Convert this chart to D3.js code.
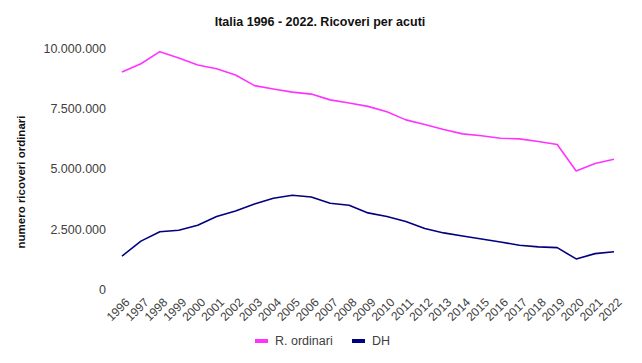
<!DOCTYPE html>
<html>
<head>
<meta charset="utf-8">
<script src="https://cdn.jsdelivr.net/npm/d3@7"></script>
<style>
  body { margin: 0; background: #fff; }
  svg { font-family: "Liberation Sans", Arial, sans-serif; }
</style>
</head>
<body>
<div id="chart"></div>
<script>
const years = d3.range(1996, 2023);
const ordinari = [9.02, 9.36, 9.86, 9.60, 9.31, 9.15, 8.89, 8.45, 8.31, 8.18, 8.10, 7.86, 7.73, 7.59, 7.37, 7.03, 6.84, 6.63, 6.45, 6.37, 6.27, 6.24, 6.13, 6.01, 4.91, 5.22, 5.40].map((v) => v * 1e6);
const dh = [1.38, 2.0, 2.39, 2.45, 2.66, 3.02, 3.25, 3.54, 3.78, 3.90, 3.83, 3.57, 3.49, 3.17, 3.02, 2.81, 2.52, 2.34, 2.21, 2.09, 1.96, 1.83, 1.76, 1.73, 1.26, 1.48, 1.56].map((v) => v * 1e6);
const yTicks = [0, 2500000, 5000000, 7500000, 10000000];

const series = [
  { name: "R. ordinari", values: ordinari, color: "#ff33ff" },
  { name: "DH", values: dh, color: "#000080" },
];

const width = 642, height = 363;
const itFormat = d3.formatLocale({ decimal: ",", thousands: ".", grouping: [3], currency: ["€", ""] }).format(",d");

const svg = d3.select("#chart").append("svg")
  .attr("width", width).attr("height", height);

const x = d3.scaleLinear().domain([1996, 2022]).range([122, 614]);
const y = d3.scaleLinear().domain([0, 10000000]).range([289.3, 48.3]);

svg.append("text")
  .attr("x", 320).attr("y", 26)
  .attr("text-anchor", "middle")
  .style("font-size", "12.5px").style("font-weight", "bold").attr("fill", "#111")
  .text("Italia 1996 - 2022. Ricoveri per acuti");

// y axis labels
const yAxis = svg.append("g").attr("transform", "translate(106,0)")
  .call(d3.axisLeft(y).tickValues(yTicks).tickFormat(itFormat).tickSize(0).tickPadding(0));
yAxis.select(".domain").remove();
yAxis.selectAll("text").style("font-size", "12.5px").attr("fill", "#404040")
  .style("font-family", "Liberation Sans, Arial, sans-serif");

svg.append("text")
  .attr("transform", "translate(25,182) rotate(-90)")
  .attr("text-anchor", "middle")
  .style("font-size", "11.5px").style("font-weight", "bold").attr("fill", "#111")
  .text("numero ricoveri ordinari");

// x axis labels
const xAxis = svg.append("g").attr("transform", "translate(0,296)")
  .call(d3.axisBottom(x).tickValues(years).tickFormat(d3.format("d")).tickSize(0).tickPadding(0));
xAxis.select(".domain").remove();
xAxis.selectAll("text")
  .style("font-size", "12px").attr("fill", "#404040")
  .style("font-family", "Liberation Sans, Arial, sans-serif")
  .attr("text-anchor", "end")
  .attr("dy", "0.35em")
  .attr("transform", "translate(5,4) rotate(-45)");

const line = d3.line()
  .x((d, i) => x(years[i]))
  .y((d) => y(d));

svg.append("g").selectAll("path")
  .data(series)
  .enter()
  .append("path")
  .attr("d", (d) => line(d.values))
  .attr("fill", "none")
  .attr("stroke", (d) => d.color)
  .attr("stroke-width", 1.6)
  .attr("stroke-linejoin", "round");

// legend
const legendX = [255, 352];
const legend = svg.append("g").selectAll("g")
  .data(series)
  .enter()
  .append("g")
  .attr("transform", (d, i) => `translate(${legendX[i]},341)`);
legend.append("rect")
  .attr("x", 0).attr("y", -2).attr("width", 13).attr("height", 4)
  .attr("fill", (d) => d.color);
legend.append("text")
  .attr("x", 20).attr("y", 0).attr("dy", "0.35em")
  .style("font-size", "12.5px").attr("fill", "#404040")
  .text((d) => d.name);
</script>
</body>
</html>
